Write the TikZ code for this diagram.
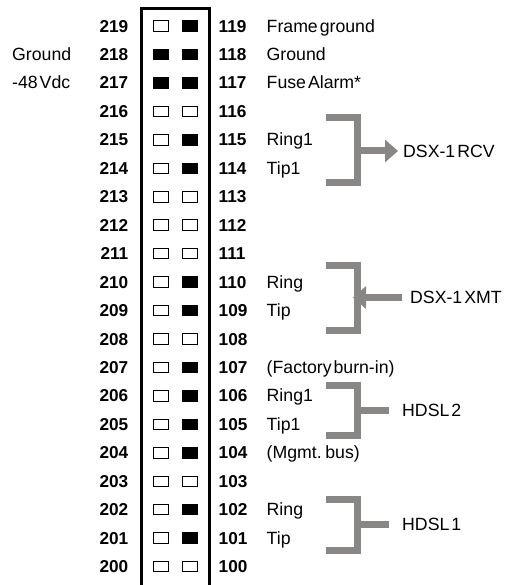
\documentclass[tikz,border=0pt]{standalone}
\usepackage{fontspec}
\setmainfont{Liberation Sans}
\newfontfamily\lblfont[WordSpace=0.4]{Liberation Sans}
\usetikzlibrary{arrows.meta}
\definecolor{brk}{RGB}{137,135,133}
\begin{document}
\begin{tikzpicture}[x=1pt,y=-1pt,
  num/.style={font=\fontsize{17.2}{20}\selectfont\bfseries, inner sep=0pt},
  lbl/.style={font=\lblfont\fontsize{17.7}{21}\selectfont, inner sep=0pt},
  pinsq/.style={draw=black, line width=0.9pt, minimum width=15.5pt, minimum height=10.5pt, inner sep=0pt},
  bracketline/.style={draw=brk, line width=7pt},
  brarrow/.style={draw=brk, fill=brk, line width=7pt, -{Triangle[length=13pt,width=22pt]}},
  frame/.style={draw=black, line width=2.5pt}]
\useasboundingbox (0,0) rectangle (505,585);
% connector block outline (open at the bottom)
\draw[frame] (141.5,592) -- (141.5,8.5) -- (209.5,8.5) -- (209.5,592);
% pin rows
\foreach \i/\a/\b/\fa/\fb in {0/219/119/white/black, 1/218/118/black/black, 2/217/117/black/black,
  3/216/116/white/white, 4/215/115/white/black, 5/214/114/white/black, 6/213/113/white/white,
  7/212/112/white/white, 8/211/111/white/white, 9/210/110/white/black, 10/209/109/white/black,
  11/208/108/white/white, 12/207/107/white/black, 13/206/106/white/black, 14/205/105/white/black,
  15/204/104/white/black, 16/203/103/white/white, 17/202/102/white/black, 18/201/101/white/black,
  19/200/100/white/white}{
  \pgfmathsetmacro\yy{26+28.45*\i}
  \node[num, anchor=base east] (L\a) at (128.5,\yy+6.1) {\a};
  \node[pinsq, fill=\fa] (S\a) at (161,\yy) {};
  \node[pinsq, fill=\fb] (S\b) at (190,\yy) {};
  \node[num, anchor=base west] (R\b) at (218.5,\yy+6.1) {\b};
}
% label columns
\coordinate (lx) at (266.5,0);
\coordinate (gx) at (12,0);
\node[lbl, anchor=base west] (Tgnd) at (L218.base -| gx) {Ground};
\node[lbl, anchor=base west] (Tvdc) at (L217.base -| gx) {-48 Vdc};
\node[lbl, anchor=base west] (T119) at (R119.base -| lx) {Frame ground};
\node[lbl, anchor=base west] (T118) at (R118.base -| lx) {Ground};
\node[lbl, anchor=base west] (T117) at (R117.base -| lx) {Fuse Alarm*};
\node[lbl, anchor=base west] (T115) at (R115.base -| lx) {Ring1};
\node[lbl, anchor=base west] (T114) at (R114.base -| lx) {Tip1};
\node[lbl, anchor=base west] (T110) at (R110.base -| lx) {Ring};
\node[lbl, anchor=base west] (T109) at (R109.base -| lx) {Tip};
\node[lbl, anchor=base west] (T107) at (R107.base -| lx) {(Factory burn-in)};
\node[lbl, anchor=base west] (T106) at (R106.base -| lx) {Ring1};
\node[lbl, anchor=base west] (T105) at (R105.base -| lx) {Tip1};
\node[lbl, anchor=base west] (T104) at (R104.base -| lx) {(Mgmt. bus)};
\node[lbl, anchor=base west] (T102) at (R102.base -| lx) {Ring};
\node[lbl, anchor=base west] (T101) at (R101.base -| lx) {Tip};
% bracket coordinates
\coordinate (b1t) at (326,118);   \coordinate (b1b) at (326,182.5); \coordinate (b1m) at (357,151);
\coordinate (b2t) at (326,265.5); \coordinate (b2b) at (326,330.5); \coordinate (b2m) at (357,297.5);
\coordinate (b3t) at (326,385.5); \coordinate (b3b) at (326,435.5); \coordinate (b3m) at (357,410.5);
\coordinate (b4t) at (326,499);   \coordinate (b4b) at (326,550.5); \coordinate (b4m) at (357,524.5);
% bracket labels
\node[lbl, anchor=west] (rcv) at (403,151) {DSX-1 RCV};
\node[lbl, anchor=west] (xmt) at (410,297.5) {DSX-1 XMT};
\node[lbl, anchor=west] (h2) at (402,410.5) {HDSL 2};
\node[lbl, anchor=west] (h1) at (402,524.5) {HDSL 1};
% brackets
\foreach \k in {1,2,3,4}{
  \draw[bracketline] (b\k t) -- (b\k t -| b\k m) -- (b\k b -| b\k m) -- (b\k b);
}
\draw[brarrow, shorten >=5pt] (b1m) -- (rcv.west);
\draw[brarrow, shorten <=8pt, shorten >=-4pt] (xmt.west) -- (b2m);
\draw[bracketline, shorten >=13pt] (b3m) -- (h2.west);
\draw[bracketline, shorten >=13pt] (b4m) -- (h1.west);
\end{tikzpicture}
\end{document}
